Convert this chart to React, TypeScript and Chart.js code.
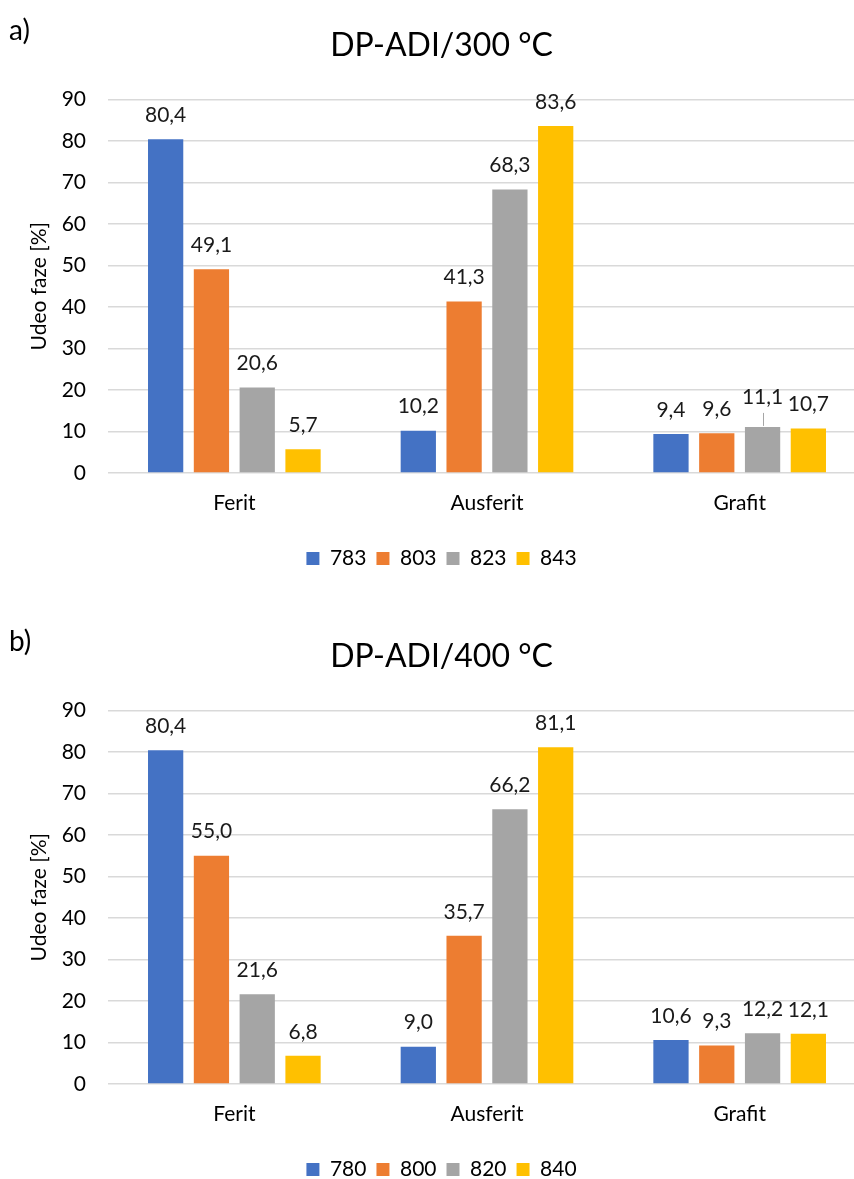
import React, { useEffect, useRef } from "react";
import { Chart, registerables } from "chart.js";

Chart.register(...registerables);

const categories = ["Ferit", "Ausferit", "Grafit"];
const yTicks = [0, 10, 20, 30, 40, 50, 60, 70, 80, 90];

const seriesA_labels = ["783", "803", "823", "843"];
const seriesA_783 = [80.4, 10.2, 9.4];
const seriesA_803 = [49.1, 41.3, 9.6];
const seriesA_823 = [20.6, 68.3, 11.1];
const seriesA_843 = [5.7, 83.6, 10.7];

const seriesB_labels = ["780", "800", "820", "840"];
const seriesB_780 = [80.4, 9.0, 10.6];
const seriesB_800 = [55.0, 35.7, 9.3];
const seriesB_820 = [21.6, 66.2, 12.2];
const seriesB_840 = [6.8, 81.1, 12.1];

const colors = ["#4472C4", "#ED7D31", "#A5A5A5", "#FFC000"];
const TEXT = "#1a1a1a";
const FONT = "Lato, 'Open Sans', sans-serif";

type PanelProps = {
  tag: string;
  title: string;
  labels: string[];
  series: number[][];
  leader?: { ds: number; idx: number; lift: number } | null;
};

function Panel({ tag, title, labels, series, leader }: PanelProps) {
  const ref = useRef<HTMLCanvasElement | null>(null);
  useEffect(() => {
    if (!ref.current) return;
    const valueLabels = {
      id: "valueLabels",
      afterDatasetsDraw(chart: any) {
        const ctx = chart.ctx;
        ctx.save();
        ctx.font = `21px ${FONT}`;
        ctx.fillStyle = TEXT;
        ctx.textAlign = "center";
        ctx.textBaseline = "middle";
        chart.data.datasets.forEach((ds: any, di: number) => {
          const meta = chart.getDatasetMeta(di);
          meta.data.forEach((el: any, i: number) => {
            const v = ds.data[i] as number;
            const txt = v.toFixed(1).replace(".", ",");
            let lift = 0;
            if (leader && leader.ds === di && leader.idx === i) lift = leader.lift;
            const y = el.y - 24 - lift;
            ctx.fillText(txt, el.x, y);
            if (lift > 0) {
              ctx.strokeStyle = "#a6a6a6";
              ctx.lineWidth = 1;
              ctx.beginPath();
              ctx.moveTo(Math.round(el.x) + 0.5, el.y - 1);
              ctx.lineTo(Math.round(el.x) + 0.5, y + 16);
              ctx.stroke();
            }
          });
        });
        ctx.restore();
      },
    };
    const tagPlugin = {
      id: "tagText",
      afterDraw(chart: any) {
        const ctx = chart.ctx;
        ctx.save();
        ctx.font = `28px ${FONT}`;
        ctx.fillStyle = "#000";
        ctx.textAlign = "left";
        ctx.textBaseline = "alphabetic";
        ctx.fillText(tag, 9, 40);
        ctx.restore();
      },
    };
    const chart = new Chart(ref.current, {
      type: "bar",
      data: {
        labels: categories,
        datasets: labels.map((l, k) => ({
          label: l,
          data: series[k],
          backgroundColor: colors[k],
          borderWidth: 0,
          categoryPercentage: 0.725,
          barPercentage: 0.77,
        })),
      },
      options: {
        animation: false,
        responsive: false,
        maintainAspectRatio: false,
        layout: { padding: { left: 17, right: 14, top: 0, bottom: 32 } },
        plugins: {
          title: {
            display: true,
            text: title,
            color: "#000",
            font: { family: FONT, size: 32, weight: "normal" },
            padding: { top: 26, bottom: 35 },
          },
          legend: {
            position: "bottom",
            labels: {
              boxWidth: 13,
              boxHeight: 13,
              padding: 10,
              color: "#000",
              font: { family: FONT, size: 21 },
            },
          },
          tooltip: { enabled: false },
        },
        scales: {
          x: {
            grid: { display: false, drawTicks: false },
            border: { display: false },
            ticks: { color: "#000", font: { family: FONT, size: 21 }, padding: 18 },
            afterFit(scale: any) {
              scale.height = 65;
            },
          },
          y: {
            min: 0,
            max: 90,
            afterBuildTicks(scale: any) {
              scale.ticks = yTicks.map((v) => ({ value: v }));
            },
            grid: { color: "#d9d9d9", lineWidth: 1.5, drawTicks: false },
            border: { display: false },
            ticks: { color: "#000", font: { family: FONT, size: 21 }, padding: 22 },
            title: {
              display: true,
              text: "Udeo faze [%]",
              color: "#000",
              font: { family: FONT, size: 21 },
              padding: { top: 10, bottom: 0 },
            },
            afterFit(scale: any) {
              scale.width = 91;
            },
          },
        },
      },
      plugins: [valueLabels, tagPlugin],
    });
    return () => chart.destroy();
  }, []);
  return <canvas ref={ref} width={880} height={611} style={{ display: "block", width: 880, height: 611 }} />;
}

export default function App() {
  return (
    <div style={{ position: "absolute", left: 0, top: 0, width: 854, height: 1179, overflow: "hidden", background: "#fff" }}>
      <Panel
        tag="a)"
        title="DP-ADI/300 °C"
        labels={seriesA_labels}
        series={[seriesA_783, seriesA_803, seriesA_823, seriesA_843]}
        leader={{ ds: 2, idx: 2, lift: 6 }}
      />
      <Panel
        tag="b)"
        title="DP-ADI/400 °C"
        labels={seriesB_labels}
        series={[seriesB_780, seriesB_800, seriesB_820, seriesB_840]}
        leader={null}
      />
    </div>
  );
}
